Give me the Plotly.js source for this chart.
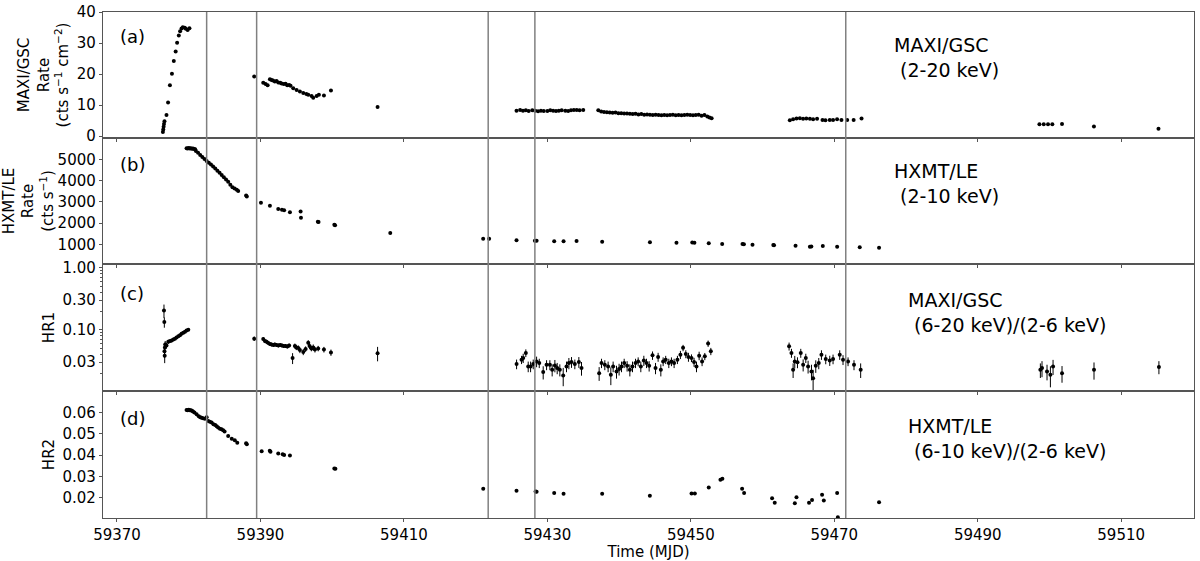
<!DOCTYPE html>
<html>
<head>
<meta charset="utf-8">
<script src="https://cdn.plot.ly/plotly-3.0.1.min.js"></script>
<style>
  body { margin: 0; background: #fff; }
  #lc { width: 1200px; height: 561px; }
</style>
</head>
<body>
<div id="lc"></div>
<script>
// MJD of the vertical markers
const markLines = [59382.5, 59389.47, 59421.75, 59428.26, 59471.6];

// (a) MAXI/GSC 2-20 keV rate
const tMaxi = [59376.40, 59376.45, 59376.50, 59376.55, 59376.62, 59376.90, 59377.12, 59377.38, 59377.66, 59377.92,
  59378.18, 59378.38, 59378.62, 59378.80, 59379.00, 59379.18, 59379.45, 59379.60, 59379.85, 59380.10,
  59389.13, 59390.39, 59390.72, 59391.00, 59391.32, 59391.55, 59391.75, 59392.00, 59392.25, 59392.48,
  59392.75, 59392.95, 59393.25, 59393.50, 59393.73, 59394.00, 59394.20, 59394.57, 59395.04, 59395.50,
  59395.97, 59396.40, 59396.66, 59397.13, 59397.36, 59397.83, 59398.15, 59398.85, 59399.83, 59406.33,
  59425.7, 59426.2, 59426.6, 59427.0, 59427.4, 59427.9, 59428.3, 59428.7, 59429.1, 59429.5,
  59430.0, 59430.4, 59430.8, 59431.2, 59431.6, 59432.0, 59432.5, 59432.9, 59433.3, 59433.7,
  59434.1, 59434.5, 59435.0,
  59437.1, 59437.5, 59437.9, 59438.3, 59438.7, 59439.1, 59439.5, 59439.9, 59440.3, 59440.7,
  59441.1, 59441.5, 59441.9, 59442.3, 59442.7, 59443.1, 59443.5, 59443.9, 59444.3, 59444.7,
  59445.1, 59445.5, 59445.9, 59446.3, 59446.7, 59447.1, 59447.5, 59447.9, 59448.3, 59448.7,
  59449.1, 59449.5, 59449.9, 59450.3, 59450.7, 59451.1, 59451.5, 59451.9, 59452.3, 59452.6, 59452.9,
  59463.8, 59464.26, 59464.73, 59465.2, 59465.65, 59466.1, 59466.6, 59467.05, 59467.6, 59468.36,
  59468.77, 59469.37, 59469.83, 59470.39, 59471.0, 59471.8, 59472.7, 59473.8,
  59498.6, 59499.2, 59499.8, 59500.4, 59501.75, 59506.2, 59515.2];
const rMaxi = [1.3, 2.1, 3.0, 3.9, 4.8, 6.8, 10.8, 16.4, 20.1, 24.2,
  27.3, 30.1, 32.4, 33.8, 34.7, 35.1, 34.9, 34.6, 34.2, 34.8,
  19.2, 17.2, 16.8, 16.4, 18.3, 18.1, 17.9, 17.6, 17.8, 17.3,
  17.2, 17.0, 16.8, 16.9, 16.4, 16.5, 16.2, 15.4, 14.9, 14.4,
  13.9, 13.6, 13.3, 12.9, 12.4, 12.9, 13.3, 13.1, 14.7, 9.4,
  8.2, 8.4, 8.2, 8.3, 8.1, 8.3, 8.2, 8.0, 8.2, 8.1,
  8.1, 8.3, 8.2, 8.1, 8.2, 8.3, 8.2, 8.1, 8.3, 8.4,
  8.4, 8.3, 8.4,
  8.3, 7.9, 7.8, 7.7, 7.6, 7.5, 7.6, 7.4, 7.4, 7.3,
  7.3, 7.2, 7.1, 7.2, 7.0, 7.1, 6.9, 7.0, 6.9, 6.8,
  6.9, 6.8, 6.7, 6.8, 6.7, 6.8, 6.9, 6.7, 6.8, 6.7,
  6.8, 6.9, 6.8, 6.7, 6.8, 6.9, 6.6, 6.8, 6.3, 6.0, 5.8,
  5.1, 5.4, 5.7, 5.8, 5.6, 5.7, 5.6, 5.4, 5.6, 5.2,
  5.1, 5.2, 5.2, 5.4, 5.2, 5.2, 5.2, 5.7,
  3.8, 3.8, 3.8, 3.8, 3.9, 3.1, 2.4];

// (b) HXMT/LE 2-10 keV rate
const tLe = [59379.70, 59379.85, 59380.00, 59380.15, 59380.30, 59380.45, 59380.60, 59380.75, 59380.90,
  59381.0, 59381.3, 59381.6, 59381.9, 59382.2, 59382.5, 59382.8, 59383.1, 59383.4, 59383.7,
  59384.0, 59384.3, 59384.6, 59384.9, 59385.2, 59385.5, 59385.8, 59386.1, 59386.4, 59386.7, 59386.9,
  59388.0, 59388.1, 59390.07, 59391.32, 59392.48, 59393.0, 59393.3, 59394.11, 59395.6, 59395.65,
  59398.0, 59398.1, 59400.3, 59400.4, 59408.1,
  59421.05, 59421.88, 59425.7, 59428.26, 59428.5, 59430.95, 59432.26, 59434.07, 59437.64, 59444.3,
  59448.0, 59450.2, 59450.5, 59452.5, 59454.37, 59457.2, 59457.4, 59458.6, 59461.5, 59461.6,
  59464.6, 59466.6, 59466.8, 59468.4, 59470.4, 59473.55, 59476.24];
const rLe = [5520, 5510, 5525, 5500, 5515, 5490, 5505, 5480, 5470,
  5390, 5300, 5200, 5110, 5010, 4920, 4840, 4750, 4660, 4560,
  4460, 4360, 4260, 4150, 4050, 3940, 3800, 3680, 3620, 3560, 3510,
  3290, 3250, 2958, 2816, 2661, 2630, 2600, 2506, 2540, 2250,
  2064, 2050, 1920, 1890, 1530,
  1264, 1264, 1188, 1170, 1170, 1141, 1141, 1155, 1122, 1094,
  1075, 1080, 1075, 1047, 1014, 1010, 1005, 981, 967, 960,
  934, 887, 895, 920, 887, 859, 840];

// (c) HR1 = MAXI (6-20 keV)/(2-6 keV), with errors
const tHr1 = [59376.55, 59376.60, 59376.62, 59376.65, 59376.68, 59376.72, 59376.90, 59377.15, 59377.40, 59377.62,
  59377.85, 59378.08, 59378.30, 59378.55, 59378.78, 59379.00, 59379.25, 59379.48, 59379.70, 59379.94,
  59389.13, 59390.39, 59390.62, 59390.86, 59391.10, 59391.32, 59391.55, 59391.80, 59392.00, 59392.25,
  59392.50, 59392.75, 59393.00, 59393.25, 59393.50, 59393.75, 59394.00, 59394.48, 59394.80, 59395.00,
  59395.27, 59395.50, 59395.97, 59396.30, 59396.66, 59396.85, 59397.10, 59397.36, 59397.60, 59398.05,
  59398.85, 59399.83, 59406.33,
  59425.71, 59426.40, 59426.63, 59427.00, 59427.33, 59427.66, 59428.03, 59428.50, 59428.87, 59429.42,
  59429.89, 59430.35, 59430.67, 59431.05, 59431.37, 59431.74, 59432.21, 59432.67, 59433.00, 59433.37,
  59433.83, 59434.39, 59434.76,
  59437.22, 59437.55, 59438.01, 59438.47, 59438.85, 59439.17, 59439.64, 59440.00, 59440.34, 59440.71,
  59441.12, 59441.50, 59441.87, 59442.29, 59442.66, 59443.03, 59443.45, 59443.82, 59444.19, 59444.66,
  59445.08, 59445.44, 59445.82, 59446.14, 59446.50, 59446.93, 59447.30, 59447.67, 59448.13, 59448.55,
  59448.92, 59449.30, 59449.67, 59450.09, 59450.45, 59450.79, 59451.16, 59451.57, 59451.95, 59452.41, 59452.79,
  59463.70, 59464.03, 59464.26, 59464.49, 59464.87, 59465.33, 59465.66, 59466.03, 59466.35, 59466.82,
  59467.05, 59467.42, 59467.84, 59468.21, 59468.81, 59469.37, 59469.83, 59470.76, 59471.22, 59471.92,
  59472.75, 59473.68,
  59498.73, 59498.96, 59499.66, 59500.13, 59500.50, 59501.75, 59506.21, 59515.26];
const vHr1 = [0.205, 0.133, 0.045, 0.038, 0.052, 0.058, 0.056, 0.064, 0.066, 0.067,
  0.070, 0.072, 0.075, 0.079, 0.082, 0.086, 0.090, 0.093, 0.097, 0.100,
  0.072, 0.071, 0.066, 0.064, 0.061, 0.059, 0.058, 0.057, 0.058, 0.057,
  0.056, 0.057, 0.056, 0.055, 0.055, 0.054, 0.056, 0.035, 0.055, 0.052,
  0.051, 0.047, 0.044, 0.049, 0.062, 0.055, 0.050, 0.052, 0.048, 0.050,
  0.048, 0.043, 0.042,
  0.0281, 0.0330, 0.0351, 0.0423, 0.0257, 0.0257, 0.0281, 0.0309, 0.0291, 0.0208,
  0.0273, 0.0273, 0.0227, 0.0266, 0.0242, 0.0227, 0.0183, 0.0257, 0.0291, 0.0303,
  0.0281, 0.0303, 0.0242,
  0.0200, 0.0291, 0.0273, 0.0257, 0.0188, 0.0257, 0.0213, 0.0233, 0.0257, 0.0291,
  0.0262, 0.0227, 0.0257, 0.0291, 0.0309, 0.0257, 0.0321, 0.0291, 0.0262, 0.0387,
  0.0242, 0.0365, 0.0227, 0.0309, 0.0330, 0.0291, 0.0309, 0.0291, 0.0330, 0.0397,
  0.0511, 0.0408, 0.0365, 0.0351, 0.0303, 0.0257, 0.0383, 0.0309, 0.0373, 0.0600, 0.0450,
  0.0542, 0.0423, 0.0227, 0.0309, 0.0300, 0.0423, 0.0273, 0.0351, 0.0257, 0.0213,
  0.0166, 0.0262, 0.0291, 0.0397, 0.0338, 0.0321, 0.0338, 0.0397, 0.0330, 0.0309,
  0.0273, 0.0227,
  0.0227, 0.0242, 0.0213, 0.0188, 0.0257, 0.0200, 0.0227, 0.0252];
const eHr1 = [0.050, 0.025, 0.010, 0.009, 0.010, 0.008, 0.006, 0.005, 0.004, 0.004,
  0.004, 0.004, 0.004, 0.004, 0.004, 0.004, 0.004, 0.004, 0.004, 0.004,
  0.006, 0.005, 0.005, 0.005, 0.004, 0.004, 0.004, 0.004, 0.004, 0.004,
  0.004, 0.004, 0.004, 0.004, 0.004, 0.004, 0.004, 0.007, 0.005, 0.005,
  0.005, 0.005, 0.005, 0.005, 0.006, 0.006, 0.005, 0.006, 0.005, 0.005,
  0.005, 0.005, 0.011,
  0.005, 0.005, 0.006, 0.006, 0.005, 0.005, 0.005, 0.006, 0.005, 0.005,
  0.005, 0.005, 0.005, 0.006, 0.005, 0.005, 0.006, 0.005, 0.006, 0.006,
  0.005, 0.006, 0.006,
  0.005, 0.005, 0.005, 0.005, 0.006, 0.005, 0.005, 0.005, 0.005, 0.005,
  0.005, 0.005, 0.005, 0.005, 0.005, 0.005, 0.006, 0.005, 0.005, 0.006,
  0.005, 0.006, 0.005, 0.005, 0.005, 0.005, 0.005, 0.005, 0.005, 0.006,
  0.006, 0.006, 0.006, 0.005, 0.005, 0.005, 0.006, 0.005, 0.005, 0.007, 0.006,
  0.008, 0.007, 0.006, 0.007, 0.006, 0.007, 0.006, 0.006, 0.006, 0.006,
  0.006, 0.006, 0.006, 0.007, 0.006, 0.006, 0.006, 0.007, 0.006, 0.005,
  0.005, 0.006,
  0.006, 0.007, 0.006, 0.007, 0.007, 0.006, 0.007, 0.006];

// (d) HR2 = HXMT/LE (6-10 keV)/(2-6 keV)
const tHr2 = [59379.70, 59379.85, 59380.00, 59380.15, 59380.30, 59380.45, 59380.60, 59380.80, 59381.10, 59381.40,
  59381.60, 59381.80, 59382.00, 59382.25, 59382.50, 59382.72, 59382.95, 59383.19, 59383.45, 59383.70,
  59383.90, 59384.10, 59384.35, 59384.58, 59384.80, 59385.00, 59385.50, 59386.00, 59386.42, 59386.77,
  59388.00, 59388.10, 59390.17, 59391.30, 59391.40, 59392.48, 59393.10, 59393.30, 59394.11, 59400.30, 59400.45,
  59421.06, 59425.70, 59428.36, 59428.50, 59430.95, 59432.26, 59437.64, 59444.29, 59450.10, 59450.56,
  59452.50, 59454.13, 59454.40, 59457.15, 59457.43, 59461.33, 59461.70, 59464.50, 59464.73, 59466.48,
  59466.90, 59468.30, 59468.54, 59470.40, 59470.50, 59476.24];
const vHr2 = [0.0612, 0.0610, 0.0613, 0.0611, 0.0610, 0.0608, 0.0605, 0.0600, 0.0592, 0.0582,
  0.0578, 0.0575, 0.0573, 0.0570, 0.0577, 0.0560, 0.0556, 0.0553, 0.0545, 0.0541,
  0.0535, 0.0529, 0.0524, 0.0521, 0.0517, 0.0510, 0.0489, 0.0477, 0.0470, 0.0458,
  0.0455, 0.0451, 0.0418, 0.0420, 0.0415, 0.0407, 0.0404, 0.0400, 0.0398, 0.0337, 0.0335,
  0.0241, 0.0232, 0.0229, 0.0227, 0.0221, 0.0218, 0.0218, 0.0208, 0.0219, 0.0219,
  0.0247, 0.0284, 0.0289, 0.0241, 0.0221, 0.0197, 0.0176, 0.0173, 0.0202, 0.0176,
  0.0189, 0.0213, 0.0186, 0.0221, 0.0107, 0.0178];

const xr = [59368.05, 59520.15];
const fnt = "DejaVu Sans, Arial, sans-serif";
const dot = {color: "black", size: 4};

const data = [
  {x: tMaxi, y: rMaxi, xaxis: "x", yaxis: "y", mode: "markers", marker: dot, type: "scatter"},
  {x: tLe, y: rLe, xaxis: "x2", yaxis: "y2", mode: "markers", marker: dot, type: "scatter"},
  {x: tHr1, y: vHr1, xaxis: "x3", yaxis: "y3", mode: "markers", marker: dot, type: "scatter",
    error_y: {type: "data", array: eHr1, visible: true, color: "black", thickness: 1, width: 0}},
  {x: tHr2, y: vHr2, xaxis: "x4", yaxis: "y4", mode: "markers", marker: dot, type: "scatter"}
];

function xax(anchor, labels) {
  return {
    anchor: anchor, range: xr, showgrid: false, zeroline: false,
    showline: true, mirror: true, linecolor: "#555", linewidth: 1.2,
    ticks: "outside", ticklen: 3, tickcolor: "#555",
    tick0: 59370, dtick: 20, tickformat: "d", showticklabels: labels,
    tickfont: {size: 15, color: "black"}
  };
}
function yax(dom, extra) {
  return Object.assign({
    domain: dom, showgrid: false, zeroline: false,
    showline: true, mirror: true, linecolor: "#555", linewidth: 1.2,
    ticks: "outside", ticklen: 3, tickcolor: "#555",
    tickfont: {size: 15, color: "black"}
  }, extra);
}

const lines = markLines.map(m => ({
  type: "line", xref: "x", yref: "paper", x0: m, x1: m, y0: 0, y1: 1,
  line: {color: "#808080", width: 1.5}
}));

const labs = [["(a)", 0.9506], ["(b)", 0.6996], ["(c)", 0.4427], ["(d)", 0.1976]].map(p => ({
  text: p[0], xref: "paper", yref: "paper", x: 0.0137, y: p[1],
  xanchor: "left", yanchor: "middle", showarrow: false, font: {size: 18, color: "black"}
}));
const notes = [
  ["MAXI/GSC<br> (2-20 keV)", 0.7234, 0.910],
  ["HXMT/LE<br> (2-10 keV)", 0.7234, 0.661],
  ["MAXI/GSC<br> (6-20 keV)/(2-6 keV)", 0.736, 0.406],
  ["HXMT/LE<br> (6-10 keV)/(2-6 keV)", 0.736, 0.157]
].map(n => ({
  text: n[0], xref: "paper", yref: "paper", x: n[1], y: n[2], align: "left",
  xanchor: "left", yanchor: "middle", showarrow: false, font: {size: 19, color: "black"}
}));

const layout = {
  width: 1200, height: 561,
  margin: {l: 103, r: 6, t: 12, b: 43},
  paper_bgcolor: "white", plot_bgcolor: "white",
  font: {family: fnt, color: "black"},
  showlegend: false,
  xaxis: xax("y", false),
  xaxis2: xax("y2", false),
  xaxis3: xax("y3", false),
  xaxis4: Object.assign(xax("y4", true), {title: {text: "Time (MJD)", font: {size: 15}, standoff: 0}}),
  yaxis: yax([0.751, 1], {range: [-0.6, 40], dtick: 10,
    title: {text: "MAXI/GSC<br>Rate<br>(cts s<sup>−1</sup> cm<sup>−2</sup>)", font: {size: 15}, standoff: 4}}),
  yaxis2: yax([0.502, 0.751], {range: [73, 6000], tickvals: [1000, 2000, 3000, 4000, 5000],
    title: {text: "HXMT/LE<br>Rate<br>(cts s<sup>−1</sup>)", font: {size: 15}, standoff: 4}}),
  yaxis3: yax([0.251, 0.502], {type: "log", range: [-1.987, 0.061],
    tickvals: [0.03, 0.1, 0.3, 1], ticktext: ["0.03", "0.10", "0.30", "1.00"],
    minor: {ticks: "outside", ticklen: 2, tickcolor: "#555",
      tickvals: [0.02, 0.04, 0.05, 0.06, 0.07, 0.08, 0.09, 0.2, 0.4, 0.5, 0.6, 0.7, 0.8, 0.9]},
    title: {text: "HR1", font: {size: 15}, standoff: 4}}),
  yaxis4: yax([0, 0.251], {range: [0.0104, 0.0701], tickvals: [0.02, 0.03, 0.04, 0.05, 0.06],
    tickformat: ".2f", title: {text: "HR2", font: {size: 15}, standoff: 4}}),
  shapes: lines,
  annotations: labs.concat(notes)
};

Plotly.newPlot("lc", data, layout, {displayModeBar: false, staticPlot: true});
</script>
</body>
</html>
